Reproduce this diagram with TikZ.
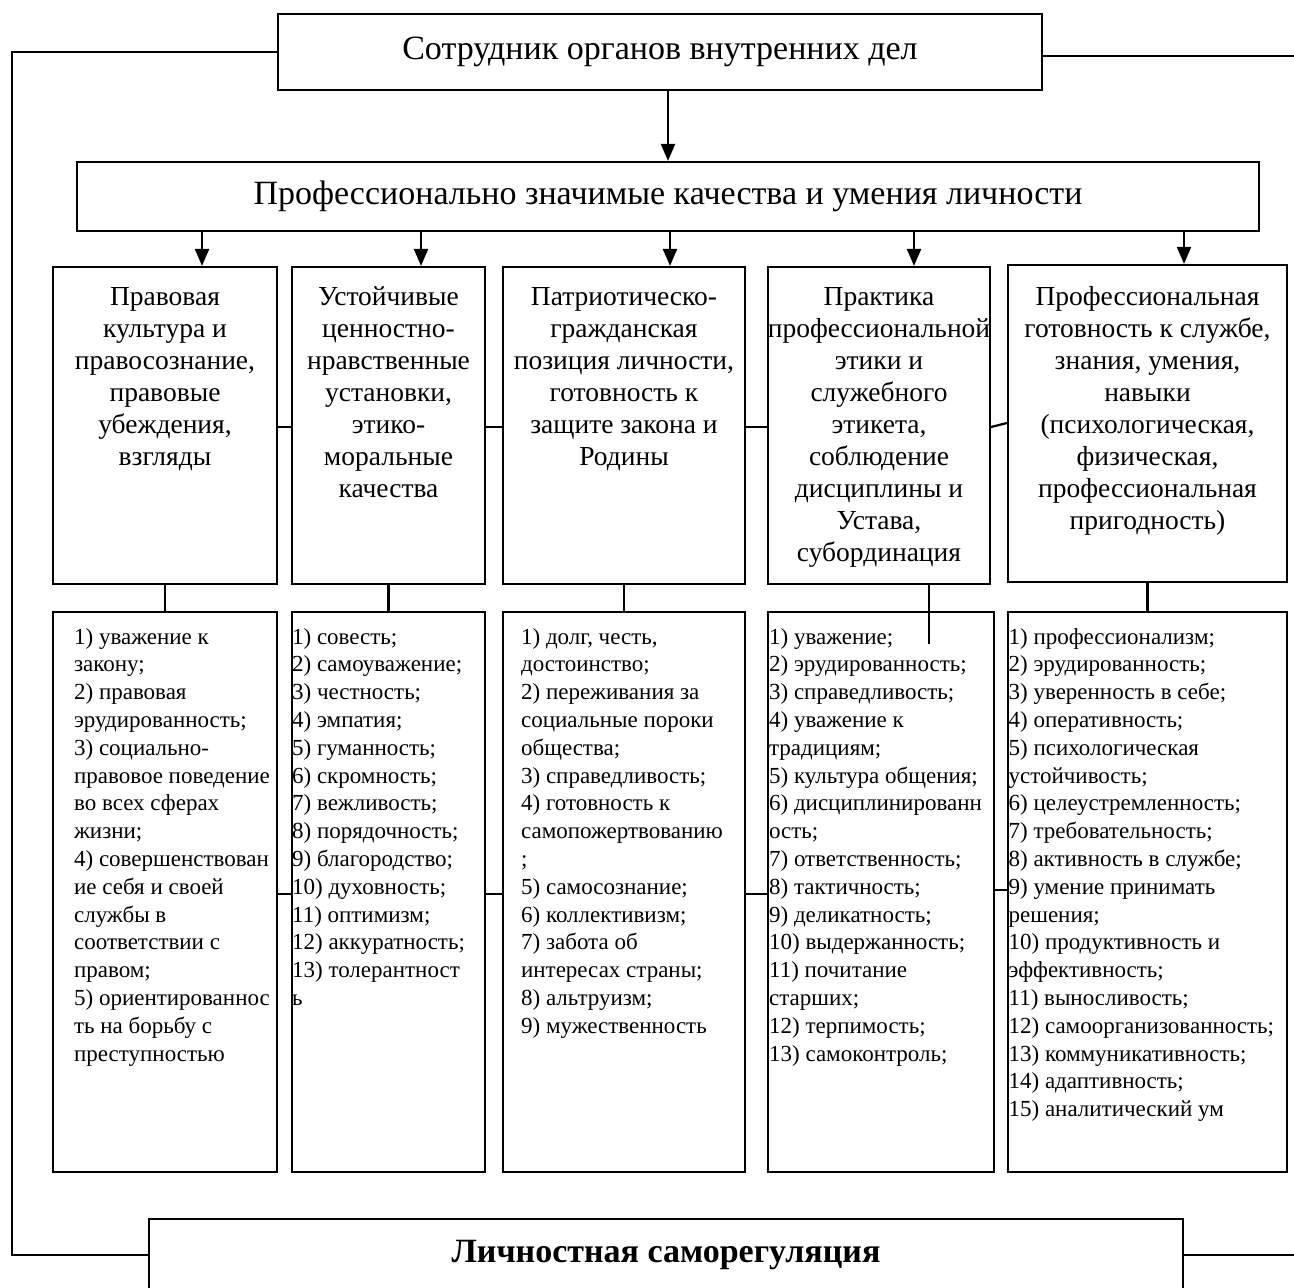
\documentclass[tikz,border=0pt]{standalone}
\usepackage{fontspec}
\setmainfont{Liberation Serif}
\usetikzlibrary{arrows.meta,calc}
\begin{document}
\begin{tikzpicture}[x=1pt,y=-1pt,
 box/.style={draw, line width=2.2pt, rectangle, inner sep=0pt},
 conn/.style={line width=2.2pt},
 arr/.style={conn, -{Triangle[length=17pt,width=14pt]}},
 title/.style={box, font=\fontsize{34}{40}\selectfont},
 headtxt/.style={anchor=north, inner sep=0pt, align=center, font=\fontsize{27.5}{32}\selectfont},
 listtxt/.style={anchor=north west, inner sep=0pt, align=left, font=\fontsize{23}{27.8}\selectfont}]
\useasboundingbox (0,0) rectangle (1294,1288);
\fill[white] (0,0) rectangle (1294,1288);

% title boxes
\node[title, minimum width=764, minimum height=76] (top) at (660,52) {Сотрудник органов внутренних дел};
\node[title, minimum width=1182, minimum height=69] (prof) at (668,196.5) {Профессионально значимые качества и умения личности};

% header boxes
\node[box, minimum width=224, minimum height=317] (h1) at (165,425.5) {};
\node[box, minimum width=193, minimum height=317] (h2) at (388.5,425.5) {};
\node[box, minimum width=242, minimum height=317] (h3) at (624,425.5) {};
\node[box, minimum width=222, minimum height=317] (h4) at (879,425.5) {};
\node[box, minimum width=279, minimum height=317] (h5) at (1147.5,423.5) {};

\node[headtxt] (t1) at ([yshift=-21]h1.north) {Правовая\\культура и\\правосознание,\\правовые\\убеждения,\\взгляды};
\node[headtxt] (t2) at ([yshift=-21]h2.north) {Устойчивые\\ценностно-\\нравственные\\установки,\\этико-\\моральные\\качества};
\node[headtxt] (t3) at ([yshift=-21]h3.north) {Патриотическо-\\гражданская\\позиция личности,\\готовность к\\защите закона и\\Родины};
\node[headtxt] (t4) at ([yshift=-21]h4.north) {Практика\\профессиональной\\этики и\\служебного\\этикета,\\соблюдение\\дисциплины и\\Устава,\\субординация};
\node[headtxt] (t5) at ([yshift=-22]h5.north) {Профессиональная\\готовность к службе,\\знания, умения,\\навыки\\(психологическая,\\физическая,\\профессиональная\\пригодность)};

% detail boxes
\node[box, minimum width=224, minimum height=560] (d1) at (165,892) {};
\node[box, minimum width=193, minimum height=560] (d2) at (388.5,892) {};
\node[box, minimum width=242, minimum height=560] (d3) at (624,892) {};
\node[box, minimum width=226, minimum height=560] (d4) at (881,892) {};
\node[box, minimum width=279, minimum height=560] (d5) at (1147.5,892) {};

\node[listtxt] (l1) at ([xshift=22,yshift=-17]d1.north west) {1) уважение к\\закону;\\2) правовая\\эрудированность;\\3) социально-\\правовое поведение\\во всех сферах\\жизни;\\4) совершенствован\\ие себя и своей\\службы в\\соответствии с\\правом;\\5) ориентированнос\\ть на борьбу с\\преступностью};
\node[listtxt] (l2) at ([xshift=1,yshift=-17]d2.north west) {1) совесть;\\2) самоуважение;\\3) честность;\\4) эмпатия;\\5) гуманность;\\6) скромность;\\7) вежливость;\\8) порядочность;\\9) благородство;\\10) духовность;\\11) оптимизм;\\12) аккуратность;\\13) толерантност\\ь};
\node[listtxt] (l3) at ([xshift=19,yshift=-17]d3.north west) {1) долг, честь,\\достоинство;\\2) переживания за\\социальные пороки\\общества;\\3) справедливость;\\4) готовность к\\самопожертвованию\\;\\5) самосознание;\\6) коллективизм;\\7) забота об\\интересах страны;\\8) альтруизм;\\9) мужественность};
\node[listtxt] (l4) at ([xshift=2,yshift=-17]d4.north west) {1) уважение;\\2) эрудированность;\\3) справедливость;\\4) уважение к\\традициям;\\5) культура общения;\\6) дисциплинированн\\ость;\\7) ответственность;\\8) тактичность;\\9) деликатность;\\10) выдержанность;\\11) почитание\\старших;\\12) терпимость;\\13) самоконтроль;};
\node[listtxt] (l5) at ([xshift=1.5,yshift=-17]d5.north west) {1) профессионализм;\\2) эрудированность;\\3) уверенность в себе;\\4) оперативность;\\5) психологическая\\устойчивость;\\6) целеустремленность;\\7) требовательность;\\8) активность в службе;\\9) умение принимать\\решения;\\10) продуктивность и\\эффективность;\\11) выносливость;\\12) самоорганизованность;\\13) коммуникативность;\\14) адаптивность;\\15) аналитический ум};

% bottom box
\node[box, font=\fontsize{34}{40}\selectfont\bfseries, minimum width=1034, minimum height=72] (bot) at (666,1255) {Личностная саморегуляция};

% helper coordinates
\coordinate (lc) at (12,300);
\coordinate (redge) at (1294,0);
\coordinate (rtop) at ([yshift=-4]top.east);
\coordinate (hl) at (0,427);
\coordinate (hl5) at (0,423);
\coordinate (dl) at (0,894);
\coordinate (dl5) at (0,890);

% outer connectors
\draw[conn] (top.west) -| (lc) |- (bot.west);
\draw[conn] (rtop) -- (rtop -| redge);
\draw[conn] (bot.east) -- (bot.east -| redge);

% arrows
\draw[arr] (top.south -| prof.north) -- (prof.north);
\foreach \n/\dx in {h1/37, h2/32.5, h3/46, h4/35, h5/36.5}{
  \coordinate (a\n) at ([xshift=\dx]\n.north);
  \draw[arr] (prof.south -| a\n) -- (a\n);
}

% header to detail
\draw[conn] (h1.south) -- (d1.north);
\draw[conn] (h2.south) -- (d2.north);
\draw[conn] (h3.south) -- (d3.north);
\draw[conn] (h5.south) -- (d5.north);
\coordinate (e4) at ([xshift=48,yshift=-33]d4.north);
\draw[conn] (e4 |- h4.south) -- (e4);

% horizontal links
\draw[conn] (h1.east |- hl) -- (h2.west |- hl);
\draw[conn] (h2.east |- hl) -- (h3.west |- hl);
\draw[conn] (h3.east |- hl) -- (h4.west |- hl);
\draw[conn] (h4.east |- hl) -- (h5.west |- hl5);
\draw[conn] (d1.east |- dl) -- (d2.west |- dl);
\draw[conn] (d2.east |- dl) -- (d3.west |- dl);
\draw[conn] (d3.east |- dl) -- (d4.west |- dl);
\draw[conn] (d4.east |- dl5) -- (d5.west |- dl5);
\end{tikzpicture}
\end{document}
